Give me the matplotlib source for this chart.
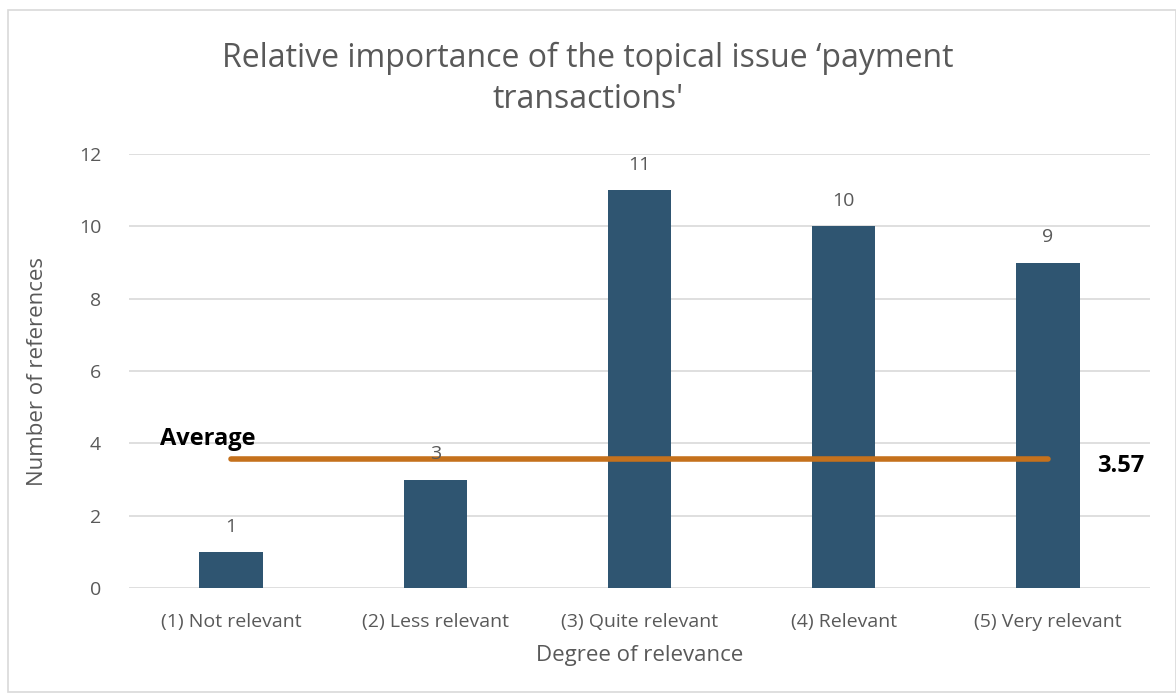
import matplotlib.pyplot as plt
from matplotlib.patches import Rectangle

categories = ["(1) Not relevant", "(2) Less relevant", "(3) Quite relevant",
              "(4) Relevant", "(5) Very relevant"]
counts = [1, 3, 11, 10, 9]
average = 3.57
y_ticks = [0, 2, 4, 6, 8, 10, 12]

plt.rcParams['font.family'] = ['Open Sans', 'DejaVu Sans']
text_col = '#595959'

fig = plt.figure(figsize=(11.76, 7.0), dpi=100)
ax = fig.add_axes([129 / 1176, 1 - 588 / 700, (1150 - 129) / 1176, (588 - 154) / 700])

# outer chart border
fig.patches.append(Rectangle((8 / 1176, 8 / 700), 1 - 8 / 1176, 1 - 18 / 700,
                             transform=fig.transFigure, fill=False,
                             edgecolor='#d9d9d9', linewidth=1.2))

x = list(range(len(categories)))
ax.bar(x, counts, width=0.31, color='#2f5571', zorder=2)
for xi, c in zip(x, counts):
    ax.text(xi, c + 0.45, str(c), ha='center', va='bottom', fontsize=14, color=text_col, zorder=4)

ax.plot([x[0], x[-1]], [average, average], color='#c5711c', linewidth=4,
        solid_capstyle='round', zorder=3)
ax.text(x[0] - 0.35, average + 0.22, "Average", fontsize=17, fontweight='bold',
        color='black', ha='left', va='bottom')
ax.text(x[-1] + 0.24, average - 0.2, f"{average:.2f}", fontsize=17, fontweight='bold',
        color='black', ha='left', va='center')

ax.set_xlim(-0.5, len(categories) - 0.5)
ax.set_ylim(0, 12)
ax.set_yticks(y_ticks)
ax.set_xticks(x)
ax.set_xticklabels(categories)
ax.tick_params(axis='both', length=0, labelsize=14, colors=text_col)
ax.tick_params(axis='x', pad=18)
ax.tick_params(axis='y', pad=20)
ax.yaxis.grid(True, color='#d9d9d9', linewidth=1.2, zorder=0)
ax.set_axisbelow(True)
for s in ax.spines.values():
    s.set_visible(False)

ax.set_xlabel("Degree of relevance", fontsize=16, color=text_col, labelpad=10)
ax.set_ylabel("Number of references", fontsize=16, color=text_col, labelpad=22)
fig.text(0.5, 1 - 79 / 700, "Relative importance of the topical issue \u2018payment\ntransactions'",
         ha='center', va='center', fontsize=23, color=text_col, linespacing=1.35)

fig.savefig('out.png', dpi=100)
